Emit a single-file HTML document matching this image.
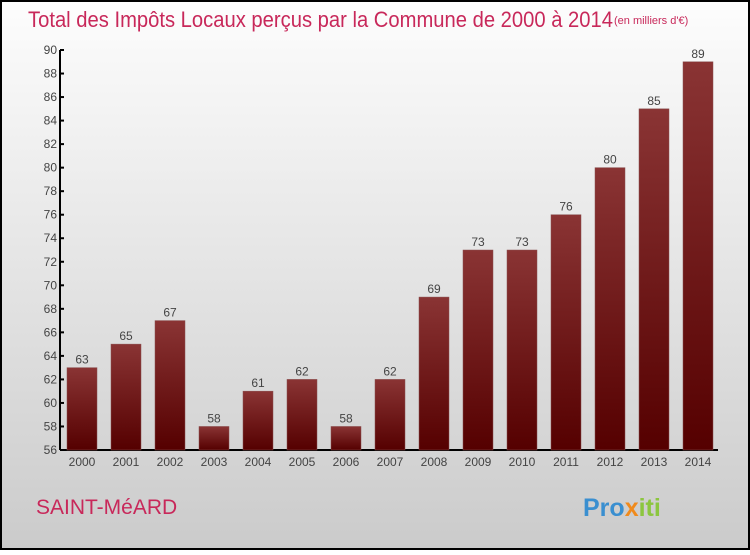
<!DOCTYPE html>
<html><head><meta charset="utf-8"><style>
html,body{margin:0;padding:0}
body{width:750px;height:550px;overflow:hidden;font-family:"Liberation Sans",sans-serif}
</style></head><body>
<svg width="750" height="550" viewBox="0 0 750 550" xmlns="http://www.w3.org/2000/svg">
<defs>
<linearGradient id="bg" x1="0" y1="0" x2="0" y2="1"><stop offset="0" stop-color="#fdfdfd"/><stop offset="1" stop-color="#cbcbcb"/></linearGradient>
<linearGradient id="bar" x1="0" y1="0" x2="0" y2="1"><stop offset="0" stop-color="#8a3434"/><stop offset="1" stop-color="#550000"/></linearGradient>
</defs>
<rect x="1" y="1" width="748" height="548" fill="url(#bg)" stroke="#000" stroke-width="2"/>
<text x="28" y="27" font-size="22" fill="#c8285a" textLength="585" lengthAdjust="spacingAndGlyphs">Total des Impôts Locaux perçus par la Commune de 2000 à 2014</text>
<text x="614" y="24" font-size="11" fill="#c8285a">(en milliers d'€)</text>
<g id="axes"></g>
<g id="bars"></g>
<text x="36" y="514" font-size="21" fill="#c8285a">SAINT-MéARD</text>
<text x="583" y="516" font-size="25" font-weight="bold" fill="#3a8fd0"><tspan fill="#3a8fd0">Pro</tspan><tspan fill="#f08a1c">x</tspan><tspan fill="#8cc63f">iti</tspan></text>
</svg>
<script>
const years=["2000","2001","2002","2003","2004","2005","2006","2007","2008","2009","2010","2011","2012","2013","2014"];
const values=[63,65,67,58,61,62,58,62,69,73,73,76,80,85,89];
const yTicks=[56,58,60,62,64,66,68,70,72,74,76,78,80,82,84,86,88,90];
const NS="http://www.w3.org/2000/svg";
const yMin=56,yMax=90,plotTop=50,plotBottom=450,plotLeft=60;
const yS=v=>plotBottom-(v-yMin)/(yMax-yMin)*(plotBottom-plotTop);
const xS=i=>82+i*44;
function mk(t,a,p){const e=document.createElementNS(NS,t);for(const k in a)e.setAttribute(k,a[k]);p.appendChild(e);return e;}
const ax=document.getElementById('axes'),bg=document.getElementById('bars');
let l=mk('line',{x1:plotLeft,y1:plotTop,x2:plotLeft,y2:plotBottom,stroke:'#000','stroke-width':2},ax);


l=mk('line',{x1:plotLeft,y1:plotBottom,x2:718,y2:plotBottom,stroke:'#000','stroke-width':2},ax);


yTicks.forEach(v=>{
 mk('line',{x1:plotLeft,y1:yS(v),x2:plotLeft+4,y2:yS(v),stroke:'#000','stroke-width':2},ax);
 const t=mk('text',{x:plotLeft-3,y:yS(v)+4,'font-size':12,fill:'#444','text-anchor':'end'},ax);
 t.textContent=v;
 
 
});
years.forEach((yr,i)=>{
 const r=mk('rect',{x:xS(i)-15,y:yS(values[i]),width:30,height:plotBottom-yS(values[i]),fill:'url(#bar)',stroke:'#8a5050','stroke-width':0.5},bg);
 
 
 const v=mk('text',{x:xS(i),y:yS(values[i])-4,'font-size':12,fill:'#444','text-anchor':'middle'},bg);
 v.textContent=values[i];
 
 
 const t=mk('text',{x:xS(i),y:plotBottom+16,'font-size':12,fill:'#444','text-anchor':'middle'},bg);
 t.textContent=yr;
 
 
});
</script>
</body></html>
